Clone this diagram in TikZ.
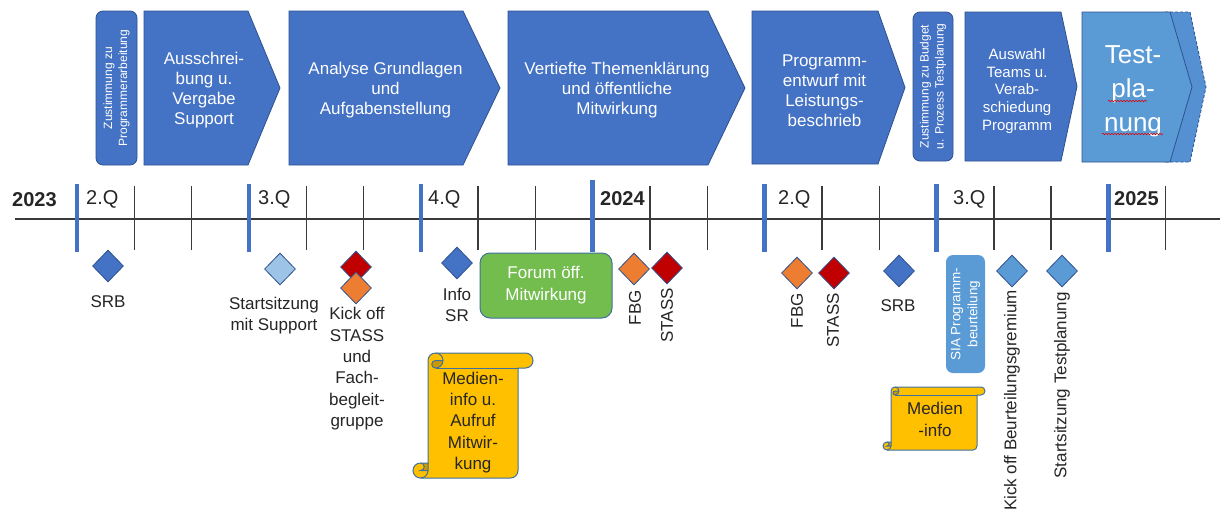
\documentclass[tikz,border=0pt]{standalone}
\usepackage{fontspec}
\setmainfont{Liberation Sans}
\usetikzlibrary{shapes.geometric,decorations.pathmorphing}

\definecolor{boxblue}{HTML}{4472C4}
\definecolor{boxedge}{HTML}{2F528F}
\definecolor{lightblue}{HTML}{5B9BD5}
\definecolor{nextblue}{HTML}{5590D2}
\definecolor{paleblue}{HTML}{9DC3E6}
\definecolor{msred}{HTML}{C00000}
\definecolor{msorange}{HTML}{ED7D31}
\definecolor{msgreen}{HTML}{72BD4E}
\definecolor{msyellow}{HTML}{FFC000}
\definecolor{scrolldark}{HTML}{C99A06}
\definecolor{outlineblue}{HTML}{41719C}
\definecolor{labelgray}{HTML}{262626}
\definecolor{axisgray}{HTML}{3A3A3A}

\newcommand\fsz[2]{\fontsize{#1}{#2}\selectfont}

% vertical scroll: left, top, width, height, roll size
\newcommand\drawscroll[5]{%
  \pgfmathsetmacro\skXa{#1+#5}%
  \pgfmathsetmacro\skXh{#1+#5/2}%
  \pgfmathsetmacro\skXc{#1+1.5*#5}%
  \pgfmathsetmacro\skXd{#1+2*#5}%
  \pgfmathsetmacro\skXf{#1+#3-#5}%
  \pgfmathsetmacro\skXg{#1+#3-#5/2}%
  \pgfmathsetmacro\skT{#2}%
  \pgfmathsetmacro\skTh{#2+#5/2}%
  \pgfmathsetmacro\skTc{#2+#5}%
  \pgfmathsetmacro\skB{#2+#4}%
  \pgfmathsetmacro\skYc{#2+#4-#5}%
  \pgfmathsetmacro\skYd{#2+#4-#5/2}%
  \pgfmathsetmacro\skR{#5/2}%
  \pgfmathsetmacro\skQ{#5/4}%
  \fill[scrollfill] (\skXa,\skYc) -- (\skXa,\skTh)
    arc[start angle=180,delta angle=90,radius=\skR] -- (\skXg,\skT)
    arc[start angle=270,delta angle=180,radius=\skR] -- (\skXf,\skTc) -- (\skXf,\skYd)
    arc[start angle=0,delta angle=90,radius=\skR] -- (\skXh,\skB)
    arc[start angle=90,delta angle=180,radius=\skR] -- cycle;
  \fill[scrollshade] (\skXc,\skTc) arc[start angle=90,delta angle=180,radius=\skQ]
    -- (\skXd,\skTh) arc[start angle=0,delta angle=90,radius=\skR] -- cycle;
  \fill[scrollshade] (\skXh,\skYc) arc[start angle=270,delta angle=180,radius=\skQ]
    -- (\skXa,\skYd) -- (\skXa,\skYc) -- cycle;
  \draw[scrolledge] (\skXa,\skYc) -- (\skXa,\skTh)
    arc[start angle=180,delta angle=90,radius=\skR] -- (\skXg,\skT)
    arc[start angle=270,delta angle=180,radius=\skR] -- (\skXf,\skTc) -- (\skXf,\skYd)
    arc[start angle=0,delta angle=90,radius=\skR] -- (\skXh,\skB)
    arc[start angle=90,delta angle=180,radius=\skR] -- cycle;
  \draw[scrolledge] (\skXc,\skT) arc[start angle=270,delta angle=180,radius=\skR]
    arc[start angle=90,delta angle=180,radius=\skQ] -- (\skXd,\skTh);
  \draw[scrolledge] (\skXf,\skTc) -- (\skXc,\skTc);
  \draw[scrolledge] (\skXh,\skYc) arc[start angle=270,delta angle=180,radius=\skQ] -- (\skXa,\skYd);
  \draw[scrolledge] (\skXh,\skB) arc[start angle=90,delta angle=-90,radius=\skR] -- (\skXa,\skYc);
}

\begin{document}
\begin{tikzpicture}[x=1pt,y=-1pt,
  phase/.style={fill=boxblue, draw=boxedge, line width=0.8pt, line join=miter},
  testphase/.style={fill=lightblue, draw=boxedge, line width=0.8pt},
  nextphase/.style={fill=nextblue, draw=boxedge, line width=0.8pt, dash pattern=on 3pt off 2pt},
  phasetext/.style={text=white, align=center, font=\fsz{17}{20}, inner sep=0},
  gate/.style={fill=boxblue, draw=boxedge, line width=0.8pt, rounded corners=7pt,
    rotate=90, text=white, align=center, font=\fsz{12}{15}, inner sep=0},
  tl/.style={font=\fsz{20}{24}, text=labelgray, anchor=west, inner sep=0},
  yr/.style={tl, font=\bfseries\fsz{20}{24}},
  monthtick/.style={line width=1.4pt, draw=axisgray},
  quartertick/.style={line width=4.5pt, draw=boxblue},
  milestone/.style={diamond, draw=boxedge, line width=0.8pt,
    minimum width=31pt, minimum height=32pt, inner sep=0},
  evlabel/.style={font=\fsz{17}{21.3}, text=labelgray, align=center, inner sep=0},
  vlabel/.style={font=\fsz{17}{20}, text=labelgray, rotate=90, anchor=east, inner sep=0},
  scrollfill/.style={fill=msyellow},
  scrollshade/.style={fill=scrolldark},
  scrolledge/.style={draw=outlineblue, line width=1pt},
  scrolltext/.style={font=\fsz{17}{21.3}, text=labelgray, align=center, inner sep=0},
  spellmark/.style={draw=red!85!black, line width=0.6pt, decorate,
    decoration={snake, amplitude=0.7pt, segment length=3pt}}
]
\useasboundingbox (0,0) rectangle (1228,515);
\fill[white] (0,0) rectangle (1228,515);

% ---- phases along the top ----
\node[gate, minimum width=154pt, minimum height=41pt] (g1) at (116.5,88)
  {Zustimmung zu\\Programmerarbeitung};

\draw[phase] (144,11) -- (248,11) -- (280,88) -- (248,165) -- (144,165) -- cycle;
\node[phasetext] (p2) at (204,90.3) {Ausschrei-\\bung u.\\Vergabe\\Support};

\draw[phase] (289,11) -- (463,11) -- (500,88) -- (463,165) -- (289,165) -- cycle;
\node[phasetext] (p3) at (385.5,90) {Analyse Grundlagen\\und\\Aufgabenstellung};

\draw[phase] (508,11) -- (708,11) -- (745,88) -- (708,165) -- (508,165) -- cycle;
\node[phasetext] (p4) at (617,90) {Vertiefte Themenklärung\\und öffentliche\\Mitwirkung};

\draw[phase] (752,11) -- (878,11) -- (905,87.5) -- (878,164) -- (752,164) -- cycle;
\node[phasetext] (p5) at (824.5,91) {Programm-\\entwurf mit\\Leistungs-\\beschrieb};

\node[gate, minimum width=149pt, minimum height=40pt] (g6) at (933,86.5)
  {Zustimmung zu Budget\\u. Prozess Testplanung};

\draw[phase] (965,12) -- (1061,12) -- (1077,86.5) -- (1061,161) -- (965,161) -- cycle;
\node[phasetext, font=\fsz{15}{17.75}] (p7) at (1017,91)
  {Auswahl\\Teams u.\\Verab-\\schiedung\\Programm};

\draw[nextphase] (1165,12) -- (1190,12) -- (1206,87) -- (1190,162) -- (1165,162) -- cycle;
\draw[testphase] (1082,12) -- (1170,12) -- (1192,87) -- (1170,162) -- (1082,162) -- cycle;
\node[phasetext, font=\fsz{26}{34}] (p8) at (1133,91.5) {Test-\\pla-\\nung};
\draw[spellmark] (1108,101) -- (1147,101);
\draw[spellmark] (1102,134) -- (1163,134);

% ---- time axis ----
\draw[line width=2pt, draw=axisgray] (15,219) -- (1220,219);
\foreach \m in {1,2,4,5,7,8,10,11,13,14,16,17,19}
  \draw[monthtick] ({77+57.3*\m},186) -- ({77+57.3*\m},250);
\foreach \m in {0,3,6,12,15,18}
  \draw[quartertick] ({77+57.3*\m},184) -- ({77+57.3*\m},252);
\draw[quartertick, line width=5pt] (592.7,180) -- (592.7,252);

\node[yr] (y2023) at (12,200) {2023};
\node[tl] (q2a) at (86,199) {2.Q};
\node[tl] (q3a) at (258,199) {3.Q};
\node[tl] (q4a) at (428,199) {4.Q};
\node[yr] (y2024) at (600,199) {2024};
\node[tl] (q2b) at (778,199) {2.Q};
\node[tl] (q3b) at (953,199) {3.Q};
\node[yr] (y2025) at (1114,199) {2025};

% ---- milestones below the axis ----
\node[milestone, fill=boxblue] (srb1) at (108,266) {};
\node[evlabel] (srb1t) at (108,302) {SRB};

\node[milestone, fill=paleblue] (start1) at (280,269) {};
\node[evlabel] (start1t) at (274,315.5) {Startsitzung\\mit Support};

\node[milestone, fill=msred] (ko1) at (356,267) {};
\node[milestone, fill=msorange] (ko2) at (356,288) {};
\node[evlabel] (kot) at (357,368.8) {Kick off\\STASS\\und\\Fach-\\begleit-\\gruppe};

\node[milestone, fill=boxblue] (info) at (457,263) {};
\node[evlabel] (infot) at (457,305) {Info\\SR};

\node[fill=msgreen, draw=outlineblue, line width=1pt, rounded corners=10pt,
  minimum width=132pt, minimum height=65pt, inner sep=0, text=white,
  align=center, font=\fsz{17}{22}] (forum) at (546,285.5) {Forum öff.\\Mitwirkung};

\node[milestone, fill=msorange] (fbg1) at (634,269) {};
\node[vlabel] (fbg1t) at (635,290) {FBG};
\node[milestone, fill=msred] (stass1) at (667,268) {};
\node[vlabel] (stass1t) at (667,288) {STASS};

\node[milestone, fill=msorange] (fbg2) at (797,273) {};
\node[vlabel] (fbg2t) at (797,293) {FBG};
\node[milestone, fill=msred] (stass2) at (834,273) {};
\node[vlabel] (stass2t) at (833,293) {STASS};

\node[milestone, fill=boxblue] (srb2) at (899,271) {};
\node[evlabel] (srb2t) at (898,306) {SRB};

\node[fill=lightblue, rounded corners=7pt, rotate=90,
  minimum width=118pt, minimum height=39pt, inner sep=0, text=white,
  align=center, font=\fsz{13.5}{17}] (sia) at (965.5,314) {SIA Programm-\\beurteilung};

\node[milestone, fill=lightblue] (kob) at (1012,271) {};
\node[vlabel] (kobt) at (1012,290) {Kick off Beurteilungsgremium};
\node[milestone, fill=lightblue] (stp) at (1062,271) {};
\node[vlabel] (stpt) at (1062,292) {Startsitzung Testplanung};

% ---- media releases ----
\drawscroll{413}{353}{120}{125}{15}
\node[scrolltext] (media1) at (473,422.3) {Medien-\\info u.\\Aufruf\\Mitwir-\\kung};

\drawscroll{883}{387}{102}{63}{8}
\node[scrolltext] (media2) at (935,419.5) {Medien\\-info};

\end{tikzpicture}
\end{document}
